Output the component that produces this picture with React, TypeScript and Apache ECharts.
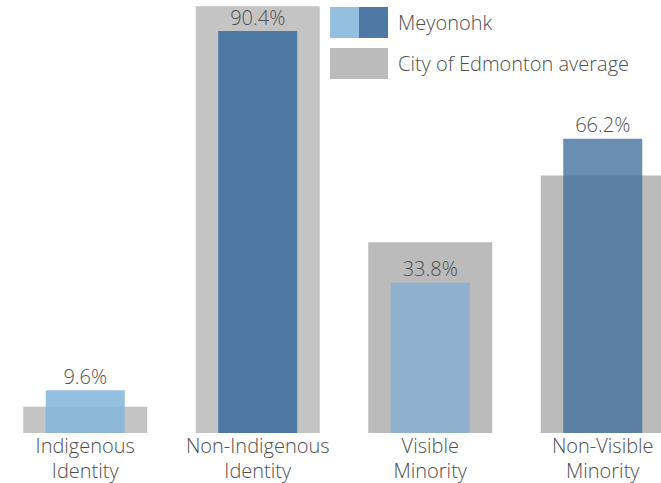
import React, { useEffect, useRef } from "react";
import * as echarts from "echarts";

const categories = ["Indigenous\nIdentity", "Non-Indigenous\nIdentity", "Visible\nMinority", "Non-Visible\nMinority"];
const meyonohkValues = [9.6, 90.4, 33.8, 66.2];
const cityValues = [5.9, 96.0, 42.9, 57.9];

const meyonohkColors = ["rgba(132,180,218,0.86)", "#4e79a4", "#8fb1cf", "rgba(64,109,156,0.78)"];
const cityColors = ["#c4c4c4", "#c4c4c4", "#bbbbbb", "#bbbbbb"];

const FONT = "'Open Sans', 'Noto Sans', sans-serif";
const TEXT = "#4f4f4f";

export default function App() {
  const ref = useRef<HTMLDivElement>(null);
  useEffect(() => {
    if (!ref.current) return;
    const chart = echarts.init(ref.current, undefined, { renderer: "svg" });
    chart.setOption({
      animation: false,
      backgroundColor: "#ffffff",
      textStyle: { fontFamily: FONT },
      grid: { left: 0, right: 0, top: 0, bottom: 50, containLabel: false },
      legend: {
        orient: "vertical",
        left: 331,
        top: 7,
        padding: 0,
        itemWidth: 58,
        itemHeight: 31,
        itemGap: 10,
        icon: "rect",
        selectedMode: false,
        data: ["Meyonohk", "City of Edmonton average"],
        textStyle: { fontSize: 20, color: TEXT, fontFamily: FONT, fontWeight: 300, padding: [0, 0, 0, 5] },
      },
      graphic: [
        { type: "rect", left: 331, top: 7, shape: { width: 29, height: 31 }, style: { fill: "#95bfdf" }, z: 100 },
      ],
      xAxis: [
        {
          type: "category",
          data: categories,
          axisLine: { show: false },
          axisTick: { show: false },
          axisLabel: { fontSize: 20, lineHeight: 25, color: TEXT, fontFamily: FONT, fontWeight: 300, margin: 0, interval: 0 },
        },
        { type: "category", data: categories, show: false },
      ],
      yAxis: { type: "value", min: 0, max: 97.4, show: false, splitLine: { show: false } },
      series: [
        {
          name: "City of Edmonton average",
          type: "bar",
          xAxisIndex: 0,
          barWidth: 124,
          itemStyle: { color: "#bbbbbb" },
          data: cityValues.map((v, i) => ({ value: v, itemStyle: { color: cityColors[i] } })),
        },
        {
          name: "Meyonohk",
          type: "bar",
          xAxisIndex: 1,
          barWidth: 79,
          itemStyle: { color: "#4e79a4" },
          label: {
            show: true,
            position: "top",
            distance: 4,
            fontSize: 20,
            color: TEXT,
            fontFamily: FONT,
            fontWeight: 300,
            formatter: (p: any) => p.value.toFixed(1) + "%",
          },
          data: meyonohkValues.map((v, i) => ({
            value: v,
            itemStyle: { color: meyonohkColors[i] },
          })),
        },
      ],
    });
    return () => chart.dispose();
  }, []);
  return (
    <div style={{ position: "absolute", left: 0, top: 0, width: 661, height: 483, overflow: "hidden", background: "#fff" }}>
      <div ref={ref} style={{ position: "absolute", left: -1, top: 0, width: 690, height: 483 }} />
    </div>
  );
}
